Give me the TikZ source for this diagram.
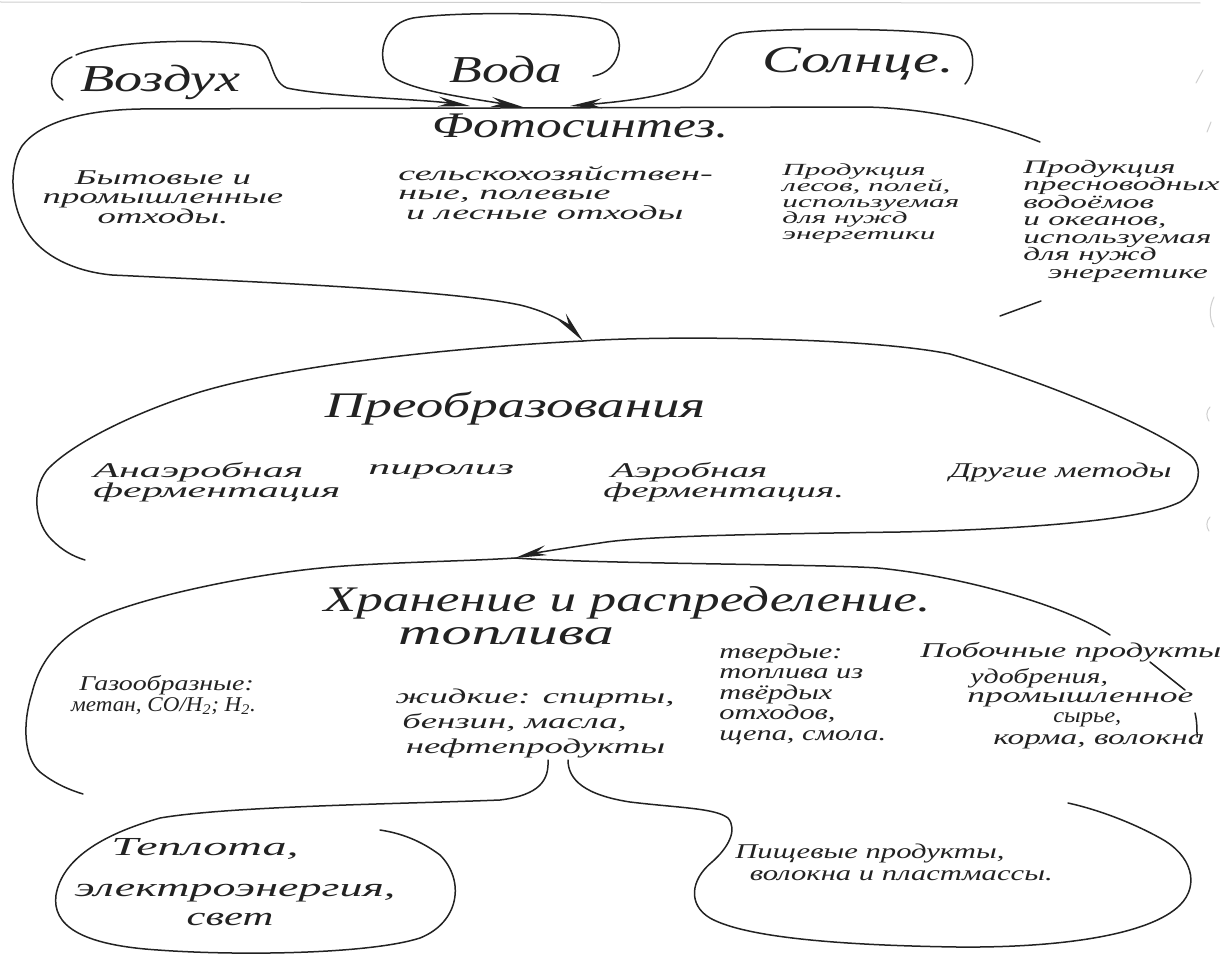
\documentclass[tikz,border=0pt]{standalone}
\usepackage{fontspec}
\setmainfont{Liberation Serif}
\usetikzlibrary{arrows.meta}
\definecolor{ink}{HTML}{222222}
\definecolor{bleed}{HTML}{CFCFCF}
\begin{document}
\begin{tikzpicture}[x=1pt,y=-1pt,
  inkline/.style={draw=ink, line width=1.5pt, line cap=round, line join=round},
  arr/.style={inkline, -{Stealth[length=32pt,width=10pt]}},
  hw/.style n args={3}{inner sep=0pt, text=ink, font=\itshape\fontsize{#1}{#2}\selectfont, xscale=#3},
  faint/.style={draw=bleed, line width=1pt, line cap=round}
]
\fill[white] (0,0) rectangle (1222,958);
\useasboundingbox (0,0) rectangle (1222,958);

% scan edge and bleed marks
\draw[faint] (0,2) -- (1200,3);
\draw[faint] (1203,70) -- (1196,83);
\draw[faint] (1211,122) -- (1207,132);
\draw[faint] (1214,297) .. controls (1209,307) and (1209,318) .. (1214,327);
\draw[faint] (1210,407) .. controls (1206,411) and (1206,417) .. (1209,421);
\draw[faint] (1210,517) .. controls (1206,521) and (1206,527) .. (1209,531);

% ---------- top sources ----------
\node[hw={38}{42}{1.48}] (vozduh) at (160,82) {Воздух};
\node[hw={38}{42}{1.41}] (voda) at (506,70) {Вода};
\node[hw={38}{42}{1.53}] (solnce) at (858,64) {Солнце.};

\draw[inkline] (72,57) .. controls (50,66) and (44,88) .. (63,100);
\draw[arr] (76,55) .. controls (110,40) and (215,38) .. (255,46)
  .. controls (275,52) and (268,80) .. (287,88)
  .. controls (330,97) and (420,99) .. (470,106);
\draw[arr] (593,76) .. controls (607,74) and (617,64) .. (619,50)
  .. controls (621,34) and (612,22) .. (596,19)
  .. controls (560,12) and (450,12) .. (413,18)
  .. controls (386,23) and (377,50) .. (386,70)
  .. controls (396,88) and (455,96) .. (523,107);
\draw[arr] (965,84) .. controls (976,72) and (976,46) .. (960,38)
  .. controls (940,28) and (780,27) .. (740,33)
  .. controls (716,38) and (714,62) .. (702,76)
  .. controls (688,94) and (630,101) .. (570,106);

% ---------- photosynthesis ----------
\node[hw={36}{40}{1.43}] (foto) at (580,126) {Фотосинтез.};
\draw[arr] (1040,142) .. controls (990,122) and (920,107) .. (860,107)
  -- (140,109) .. controls (85,110) and (40,122) .. (22,146)
  .. controls (8,168) and (10,208) .. (30,236)
  .. controls (48,260) and (80,272) .. (112,275)
  .. controls (260,282) and (450,290) .. (520,305)
  .. controls (550,312) and (570,326) .. (583,341);
\draw[inkline] (1000,316) -- (1041,301);

\node[hw={21}{19}{1.75}, align=center] (byt) at (163,197) {Бытовые и\\промышленные\\отходы.};
\node[hw={20}{19}{1.91}, align=left, anchor=west] (selh) at (398,193) {сельскохозяйствен-\\ные, полевые\\\hspace*{4pt}и лесные отходы};
\node[hw={17}{16}{1.84}, align=left, anchor=west] (lesa) at (782,203) {Продукция\\лесов, полей,\\используемая\\для нужд\\энергетики};
\node[hw={19}{17.5}{1.75}, align=left, anchor=west] (presn) at (1023,221) {Продукция\\пресноводных\\водоёмов\\и океанов,\\используемая\\для нужд\\\hspace*{14pt}энергетике};

% ---------- conversion ----------
\node[hw={36}{40}{1.53}] (preob) at (515,408) {Преобразования};
\draw[arr] (583,341) .. controls (650,336) and (860,336) .. (950,354)
  .. controls (1040,380) and (1150,425) .. (1190,455)
  .. controls (1204,466) and (1200,490) .. (1180,502)
  .. controls (1140,522) and (1000,530) .. (900,532)
  .. controls (760,534) and (640,536) .. (600,543)
  .. controls (565,548) and (535,553) .. (515,558);
\draw[inkline] (583,341) .. controls (480,346) and (300,362) .. (200,392)
  .. controls (130,414) and (70,445) .. (47,470)
  .. controls (30,492) and (36,525) .. (52,540)
  .. controls (62,550) and (72,556) .. (85,560);

\node[hw={21}{20}{2.0}, align=left, anchor=west] (anaer) at (93,482) {Анаэробная\\ферментация};
\node[hw={21}{20}{2.1}, anchor=west] (piro) at (368,472) {пиролиз};
\node[hw={21}{20}{1.87}, align=left, anchor=west] (aer) at (603,482) {\hspace*{4pt}Аэробная\\ферментация.};
\node[hw={21}{20}{1.6}, anchor=east] (drug) at (1172,472) {Другие методы};

% ---------- storage ----------
\node[hw={36}{40}{1.48}] (hran) at (627,603) {Хранение и распределение.};
\node[hw={36}{40}{1.67}] (topl) at (506,636) {топлива};
\draw[inkline] (515,558) .. controls (470,561) and (400,562) .. (344,566)
  .. controls (260,572) and (150,595) .. (99,617)
  .. controls (60,636) and (40,660) .. (32,693)
  .. controls (22,725) and (24,758) .. (40,772)
  .. controls (55,784) and (70,790) .. (83,794);
\draw[inkline] (515,558) .. controls (600,564) and (820,564) .. (878,568)
  .. controls (960,576) and (1065,605) .. (1110,635);
\draw[inkline] (1150,662) -- (1185,690);
\draw[inkline] (1195,713) .. controls (1197,721) and (1197,729) .. (1197,737);

\node[hw={21}{20}{1.33}, anchor=west] (gaz1) at (79,685) {Газообразные:};
\node[hw={21}{20}{1.1}, anchor=west] (gaz2) at (71,706) {метан, CO/H\textsubscript{2}; H\textsubscript{2}.};
\node[hw={21}{25}{1.75}, align=left, anchor=west] (zhid) at (395,723) {жидкие: спирты,\\\hspace*{4pt}бензин, масла,\\\hspace*{6pt}нефтепродукты};
\node[hw={21}{20.5}{1.45}, align=left, anchor=west] (tverd) at (719,694) {твердые:\\топлива из\\твёрдых\\отходов,\\щепа, смола.};
\node[hw={21}{20}{1.63}, anchor=west] (pobo) at (920,652) {Побочные продукты};
\node[hw={21}{20}{1.43}, anchor=west] (udob) at (970,678) {удобрения,};
\node[hw={21}{20}{1.69}, anchor=west] (prom) at (967,700) {промышленное};
\node[hw={21}{20}{1.17}, anchor=west] (syr) at (1053,720) {сырье,};
\node[hw={21}{20}{1.59}, anchor=west] (korm) at (993,742) {корма, волокна};

% ---------- outputs ----------
\draw[inkline] (548,760) .. controls (549,780) and (540,795) .. (500,800)
  .. controls (400,804) and (230,806) .. (160,818)
  .. controls (100,835) and (62,860) .. (56,895)
  .. controls (52,925) and (80,945) .. (158,950)
  .. controls (240,956) and (370,954) .. (420,938)
  .. controls (460,922) and (465,880) .. (440,855)
  .. controls (420,840) and (400,833) .. (380,830);
\draw[inkline] (568,760) .. controls (568,780) and (585,795) .. (630,802)
  .. controls (680,808) and (715,808) .. (728,818)
  .. controls (738,830) and (728,848) .. (712,862)
  .. controls (690,880) and (688,905) .. (710,918)
  .. controls (740,935) and (820,945) .. (957,947)
  .. controls (1060,948) and (1150,935) .. (1180,905)
  .. controls (1200,885) and (1192,855) .. (1160,838)
  .. controls (1135,824) and (1100,810) .. (1068,803);

\node[hw={26}{30}{1.85}] (teplo1) at (205,849) {Теплота,};
\node[hw={26}{30}{1.77}] (teplo2) at (235,893) {электроэнергия,};
\node[hw={26}{30}{1.64}] (teplo3) at (230,919) {свет};
\node[hw={21}{22}{1.46}, align=left, anchor=west] (pishch) at (735,862) {Пищевые продукты,\\\hspace*{10pt}волокна и пластмассы.};
\end{tikzpicture}
\end{document}
